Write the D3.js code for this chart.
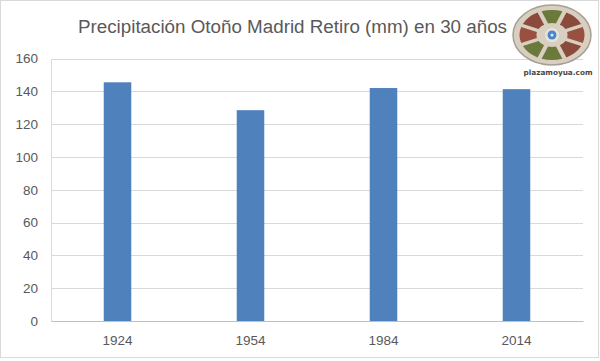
<!DOCTYPE html>
<html><head><meta charset="utf-8">
<script src="https://cdn.jsdelivr.net/npm/d3@7"></script>
<style>body{margin:0;background:#fff}svg{display:block}</style>
</head><body>
<svg id="c" width="600" height="361"></svg>
<script>
const categories = ["1924","1954","1984","2014"];
const values = [145.5, 128.5, 142, 141.3];
const yTicks = [0,20,40,60,80,100,120,140,160];
const title = "Precipitación Otoño Madrid Retiro (mm) en 30 años";
const logoText = "plazamoyua.com";

const svg = d3.select("#c");
svg.append("rect").attr("x",0.5).attr("y",0.5).attr("width",598).attr("height",357)
  .attr("fill","#fff").attr("stroke","#d9d9d9");

const x = d3.scaleBand().domain(categories).range([51,583]).paddingInner(0.793).paddingOuter(0.3965);
const y = d3.scaleLinear().domain([0,160]).range([321,58.5]);

// gridlines
svg.append("g").selectAll("line").data(yTicks.filter(d=>d>0)).join("line")
  .attr("x1",51).attr("x2",583).attr("y1",d=>Math.round(y(d))+0.5).attr("y2",d=>Math.round(y(d))+0.5)
  .attr("stroke","#d9d9d9").attr("stroke-width",1);

// y axis
const ya = svg.append("g").attr("transform","translate(51,0)")
  .call(d3.axisLeft(y).tickValues(yTicks).tickSize(0).tickPadding(13));
ya.select(".domain").attr("stroke","#d9d9d9");
ya.selectAll("text").attr("fill","#595959").style("font-family","'Liberation Sans',Arial,sans-serif").style("font-size","13.5px");

// bars
svg.append("g").selectAll("rect").data(values).join("rect")
  .attr("x",(d,i)=>x(categories[i])).attr("width",x.bandwidth())
  .attr("y",d=>y(d)).attr("height",d=>y(0)-y(d))
  .attr("fill","#4f81bd");

// x axis
const xa = svg.append("g").attr("transform","translate(0,321)")
  .call(d3.axisBottom(x).tickSize(0).tickPadding(14));
xa.select(".domain").attr("stroke","#bfbfbf").attr("stroke-width",1);
xa.selectAll("text").attr("fill","#595959").style("font-family","'Liberation Sans',Arial,sans-serif").style("font-size","13.5px");

// title
svg.append("text").attr("x",292.5).attr("y",33).attr("text-anchor","middle")
  .attr("fill","#595959").style("font-family","'Liberation Sans',Arial,sans-serif").style("font-size","18.8px")
  .text(title);

// logo
const lg = svg.append("g").attr("transform","translate(552,35)");
lg.append("ellipse").attr("rx",39).attr("ry",30).attr("fill","#d8cfc0").attr("stroke","#a89f94").attr("stroke-width",1.5);
const segColors = ["#6b7a3a","#8a4a3c","#9a5040","#8a4a3c","#6b7a3a","#6b7a3a","#9a5040","#8a4a3c"];
const arc = d3.arc().innerRadius(12).outerRadius(25).padAngle(0.12);
const pie = d3.pie().value(1).sort(null).startAngle(-Math.PI/8).endAngle(2*Math.PI-Math.PI/8);
lg.append("g").attr("transform","scale(1.3,1)").selectAll("path").data(pie(segColors)).join("path")
  .attr("d",arc).attr("fill",(d,i)=>segColors[i]);
lg.append("circle").attr("r",7).attr("fill","#e8e4dc");
lg.append("circle").attr("r",4.5).attr("fill","#4a86c8");
lg.append("circle").attr("r",1.5).attr("fill","#dfe8f2");
svg.append("text").attr("x",558).attr("y",75).attr("text-anchor","middle")
  .attr("fill","#4a4a4a").style("font-family","'DejaVu Sans',sans-serif").style("font-size","7.3px").style("font-weight","bold")
  .text(logoText);
</script>
</body></html>
